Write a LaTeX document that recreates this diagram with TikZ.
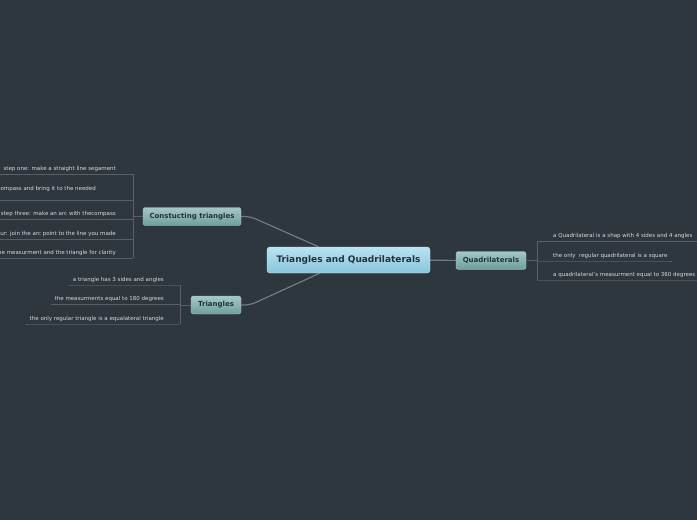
\documentclass[tikz,border=0pt]{standalone}
\usepackage{fontspec}
\setmainfont{DejaVu Sans}
\usetikzlibrary{positioning}
\pgfdeclarelayer{bg}
\pgfdeclarelayer{edges}
\pgfsetlayers{bg,edges,main}
\definecolor{boardbg}{HTML}{2F373E}
\definecolor{centraltop}{HTML}{B8E2F2}
\definecolor{centralbot}{HTML}{8AC6DC}
\definecolor{centralrim}{HTML}{C8EAF6}
\definecolor{topictop}{HTML}{A2C9C5}
\definecolor{topicbot}{HTML}{6F9E9B}
\definecolor{topicrim}{HTML}{A8CCC8}
\definecolor{idealabel}{HTML}{23333E}
\definecolor{leaftext}{HTML}{D6D9DB}
\definecolor{edgegrey}{HTML}{737A80}
\definecolor{ruleline}{HTML}{576066}
\tikzset{
  mainidea/.style={rectangle, rounded corners=3pt, draw=centralrim, top color=centraltop,
    bottom color=centralbot, text=idealabel, minimum width=163pt, minimum height=26pt,
    font=\fontsize{9}{10}\selectfont\bfseries},
  topic/.style={rectangle, rounded corners=2.5pt, draw=topicrim, top color=topictop,
    bottom color=topicbot, text=idealabel, minimum height=18pt,
    font=\fontsize{7}{8}\selectfont\bfseries},
  leaf/.style={inner sep=0pt, text=leaftext, font=\fontsize{5.5}{6}\selectfont},
  branch/.style={draw=edgegrey, line width=1.2pt},
  rule/.style={draw=ruleline, line width=0.7pt}
}
\begin{document}
\begin{tikzpicture}[x=1pt, y=-1pt]
  \useasboundingbox (0,0) rectangle (697,520);
  \begin{pgfonlayer}{bg}
    \fill[boardbg] (0,0) rectangle (697,520);
  \end{pgfonlayer}
  \clip (0,0) rectangle (697,520);
  % idee centrale et branches
  \node[mainidea] (tq) at (348.5,260) {Triangles and Quadrilaterals};
  \node[topic, minimum width=98pt] (cons) at (192,216.5) {Constucting triangles};
  \node[topic, minimum width=50pt] (tri) at (216,305) {Triangles};
  \node[topic, minimum width=70pt] (quad) at (491,260.5) {Quadrilaterals};
  \begin{pgfonlayer}{edges}
    \draw[branch, rounded corners=6pt] (cons.east) -- ++(9,0) -- (tq);
    \draw[branch, rounded corners=6pt] (tri.east) -- ++(9,0) -- (tq);
    \draw[branch] (tq) -- (quad);
  \end{pgfonlayer}
  % etapes de construction
  \coordinate (cbartop) at (133,174);
  \coordinate (cbarbot) at (133,258);
  \draw[rule] (cbartop) -- (cbarbot);
  \draw[rule] (cons.west) -- (cons.west -| cbartop);
  \foreach \t/\y/\b/\e [count=\i] in {{step one: make a straight line segament}/174/170/116,
      {compass and bring it to the needed}/200/190/96,
      {step three: make an arc with thecompass}/219/215/116,
      {ur: join the arc point to the line you made}/239/235/116,
      {he measurment and the triangle for clarity}/258/254/116}{
    \node[leaf, anchor=base east] (cs\i) at (\e,\b) {\t};
    \coordinate (cr\i) at (133,\y);
    \draw[rule] (cr\i) -- ++(-140,0);
  }
  % triangles
  \coordinate (tbartop) at (180,285);
  \coordinate (tbarbot) at (180,324);
  \draw[rule] (tbartop) -- (tbarbot);
  \draw[rule] (tri.west) -- (tri.west -| tbartop);
  \foreach \t/\y [count=\i] in {{a triangle has 3 sides and angles}/285,
      {the measurments equal to 180 degrees}/304.7,
      {the only regular triangle is a equalateral triangle}/324}{
    \node[leaf, anchor=base east] (ts\i) at (164,\y-4) {\t};
    \coordinate (tr\i) at (180,\y);
    \draw[rule] (tr\i) -- (tr\i -| ts\i.west) -- ++(-4,0);
  }
  % quadrilaterals
  \coordinate (qbartop) at (537,241.7);
  \coordinate (qbarbot) at (537,280);
  \draw[rule] (qbartop) -- (qbarbot);
  \draw[rule] (quad.east) -- (quad.east -| qbartop);
  \foreach \t/\y [count=\i] in {{a Quadrilateral is a shap with 4 sides and 4 angles}/241.7,
      {the only\ \ regular quadrilateral is a square}/261,
      {a quadrilateral's measurment equal to 360 degrees}/280}{
    \node[leaf, anchor=base west] (qs\i) at (553,\y-4) {\t};
    \coordinate (qr\i) at (537,\y);
    \draw[rule] (qr\i) -- (qr\i -| qs\i.east) -- ++(4,0);
  }
\end{tikzpicture}
\end{document}
